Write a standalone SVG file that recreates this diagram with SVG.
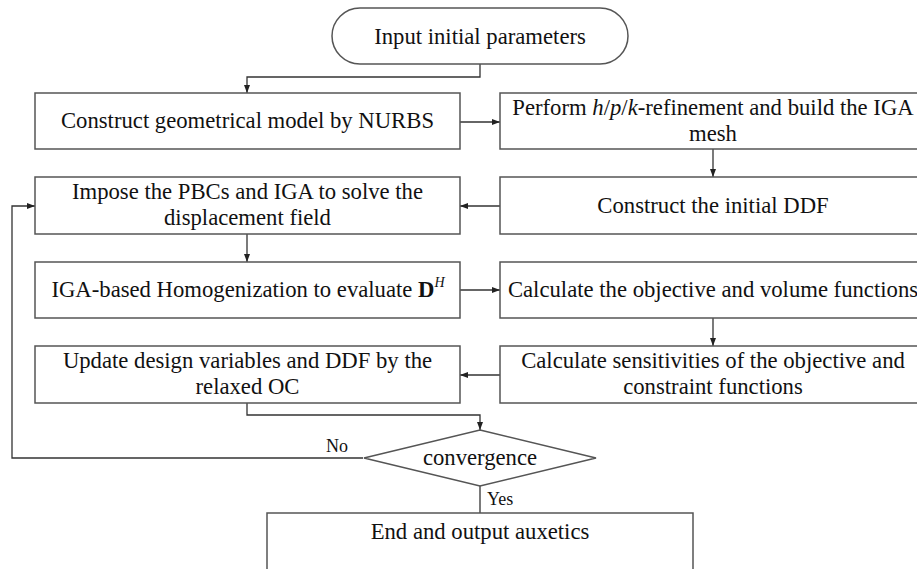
<svg xmlns="http://www.w3.org/2000/svg" width="917" height="569" viewBox="0 0 917 569">
<style>
.box{fill:#fff;stroke:#555;stroke-width:1.5}
.t{font-family:"Liberation Serif","Times New Roman",serif;font-size:22.7px;fill:#111;text-anchor:middle}
.lbl{font-family:"Liberation Serif","Times New Roman",serif;font-size:18px;fill:#111}
.c{fill:none;stroke:#333;stroke-width:1.3}
</style>
<defs>
<marker id="ah" markerUnits="userSpaceOnUse" markerWidth="8" markerHeight="8" viewBox="0 0 8 8" refX="8" refY="4" orient="auto">
<path d="M0,1 L8,4 L0,7 z" fill="#222"/>
</marker>
</defs>
<rect width="917" height="569" fill="#fff"/>
<g id="connectors">
<path class="c" d="M480,64 V77 H247 V93" marker-end="url(#ah)"/>
<path class="c" d="M460,122 H500" marker-end="url(#ah)"/>
<path class="c" d="M713,149 V177" marker-end="url(#ah)"/>
<path class="c" d="M500,206 H460" marker-end="url(#ah)"/>
<path class="c" d="M247,234 V262" marker-end="url(#ah)"/>
<path class="c" d="M460,290 H500" marker-end="url(#ah)"/>
<path class="c" d="M713,318 V346" marker-end="url(#ah)"/>
<path class="c" d="M500,375 H460" marker-end="url(#ah)"/>
<path class="c" d="M247,403 V415 H480 V430" marker-end="url(#ah)"/>
<path class="c" d="M363,458 H12 V206 H35" marker-end="url(#ah)"/>
<path class="c" d="M480,486 V513"/>
<text class="lbl" x="337" y="452" text-anchor="middle">No</text>
<text class="lbl" x="487" y="505">Yes</text>
</g>
<g id="start">
<rect class="box" x="332" y="8" width="296" height="56" rx="28"/>
<text class="t" x="480" y="44">Input initial parameters</text>
</g>
<g id="nurbs">
<rect class="box" x="35" y="93" width="425" height="56"/>
<text class="t" x="247.5" y="128">Construct geometrical model by NURBS</text>
</g>
<g id="refine">
<rect class="box" x="500" y="93" width="426" height="56"/>
<text class="t" x="713" y="115">Perform <tspan font-style="italic">h</tspan>/<tspan font-style="italic">p</tspan>/<tspan font-style="italic">k</tspan>-refinement and build the IGA</text>
<text class="t" x="713" y="141">mesh</text>
</g>
<g id="ddf">
<rect class="box" x="500" y="177" width="426" height="57"/>
<text class="t" x="713" y="213">Construct the initial DDF</text>
</g>
<g id="solve">
<rect class="box" x="35" y="177" width="425" height="57"/>
<text class="t" x="247.5" y="199">Impose the PBCs and IGA to solve the</text>
<text class="t" x="247.5" y="225">displacement field</text>
</g>
<g id="homog">
<rect class="box" x="35" y="262" width="425" height="56"/>
<text class="t" x="248" y="297">IGA-based Homogenization to evaluate <tspan font-weight="bold">D</tspan><tspan font-style="italic" font-size="14" dy="-10">H</tspan></text>
</g>
<g id="objective">
<rect class="box" x="500" y="262" width="426" height="56"/>
<text class="t" x="713" y="297">Calculate the objective and volume functions</text>
</g>
<g id="sensitivity">
<rect class="box" x="500" y="346" width="426" height="57"/>
<text class="t" x="713" y="368">Calculate sensitivities of the objective and</text>
<text class="t" x="713" y="394">constraint functions</text>
</g>
<g id="update">
<rect class="box" x="35" y="346" width="425" height="57"/>
<text class="t" x="247.5" y="368">Update design variables and DDF by the</text>
<text class="t" x="247.5" y="394">relaxed OC</text>
</g>
<g id="convergence">
<polygon class="box" points="480,430 596,458 480,486 364,458"/>
<text class="t" x="480" y="465">convergence</text>
</g>
<g id="end">
<rect class="box" x="267" y="513" width="426" height="70"/>
<text class="t" x="480" y="539">End and output auxetics</text>
</g>
</svg>
